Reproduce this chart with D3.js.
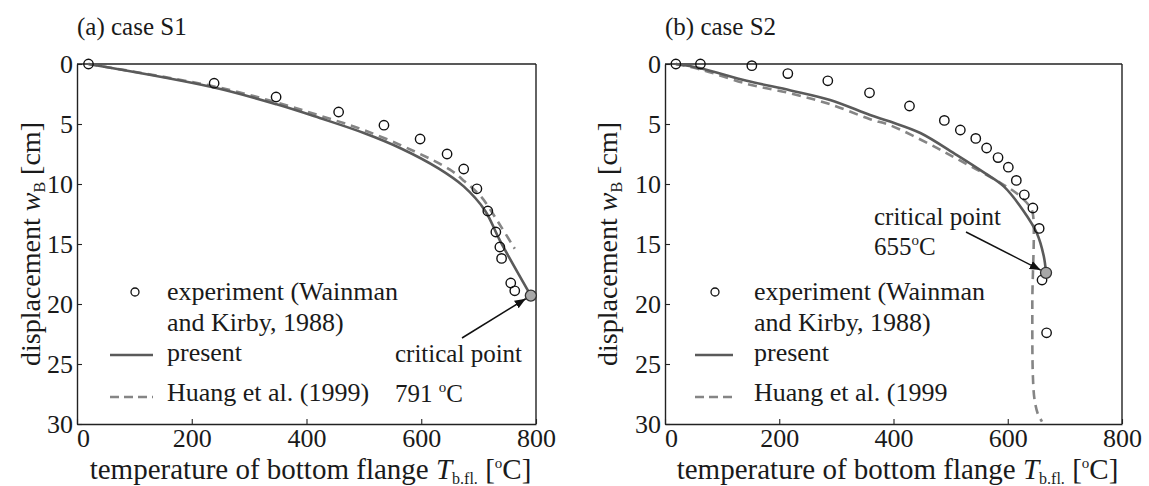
<!DOCTYPE html>
<html>
<head>
<meta charset="utf-8">
<script src="https://cdn.jsdelivr.net/npm/d3@7"></script>
<style>
html,body{margin:0;padding:0;background:#fff;}
svg{display:block;}
</style>
</head>
<body>
<svg id="chart" width="1149" height="486" style="font-family:'Liberation Serif','Times New Roman',Times,'DejaVu Serif',serif"></svg>
<script>
// ---------- data ----------
const tempTicks = [0, 200, 400, 600, 800];
const dispTicks = [0, 5, 10, 15, 20, 25, 30];
const panelTitles = ["(a) case S1", "(b) case S2"];

// case S1
const s1ExpT = [20, 239, 347, 456, 535, 598, 645, 674, 697, 716, 730, 737, 740, 756, 763];
const s1ExpW = [0, 1.6, 2.75, 4.0, 5.1, 6.25, 7.5, 8.75, 10.4, 12.25, 14.0, 15.25, 16.2, 18.25, 18.9];
const s1PresentT = [20, 237, 348, 423, 500, 563, 630, 674, 711, 737, 791];
const s1PresentW = [0, 1.94, 3.36, 4.5, 5.75, 7.0, 8.7, 10.2, 12.2, 14.7, 19.3];
const s1HuangT = [20, 237, 348, 423, 500, 589, 650, 676, 705, 737, 763];
const s1HuangW = [0, 1.85, 3.2, 4.3, 5.5, 7.3, 8.8, 9.8, 11.1, 13.4, 15.4];
const s1Critical = [791, 19.3];

// case S2
const s2ExpT = [19, 62, 152, 215, 285, 358, 428, 489, 517, 544, 563, 583, 601, 615, 629, 644, 655, 660, 668];
const s2ExpW = [0, 0, 0.14, 0.8, 1.4, 2.4, 3.5, 4.7, 5.5, 6.2, 7.0, 7.8, 8.6, 9.7, 10.9, 12.0, 13.7, 18.0, 22.4];
const s2PresentT = [19, 62, 143, 220, 289, 359, 394, 447, 511, 560, 593, 627, 651, 663, 667];
const s2PresentW = [0, 0.35, 1.4, 2.2, 3.0, 4.25, 4.8, 5.75, 7.6, 9.1, 10.2, 12.2, 14.1, 16.0, 17.4];
const s2HuangT = [19, 62, 143, 220, 289, 359, 394, 464, 511, 587, 616, 639, 644, 643, 644, 647, 653, 660];
const s2HuangW = [0, 0.45, 1.65, 2.45, 3.35, 4.6, 5.1, 6.7, 7.9, 9.9, 10.8, 11.9, 12.5, 20, 26, 28, 29.2, 29.8];
const s2Critical = [667, 17.4];

const legendLabels = ["experiment (Wainman", "and Kirby, 1988)", "present"];
const huangLabels = ["Huang et al. (1999)", "Huang et al. (1999"];
const criticalLabels = [["critical point", "791 ", "C"], ["critical point", "655", "C"]];

// ---------- layout ----------
const svg = d3.select("#chart");
const panels = [
  {x0: 77, x1: 536, y0: 64, y1: 424,
   expT: s1ExpT, expW: s1ExpW, preT: s1PresentT, preW: s1PresentW, huT: s1HuangT, huW: s1HuangW,
   crit: s1Critical, arrowFrom: [462, 338],
   legX: 135, legLine: [110, 153], legText: 167,
   critText: [395, 362, 402], huangLabel: huangLabels[0], critLabel: criticalLabels[0],
   yLabelX: 40},
  {x0: 665, x1: 1122, y0: 64, y1: 424,
   expT: s2ExpT, expW: s2ExpW, preT: s2PresentT, preW: s2PresentW, huT: s2HuangT, huW: s2HuangW,
   crit: s2Critical, arrowFrom: [966, 232],
   legX: 715, legLine: [695, 733], legText: 754,
   critText: [874, 225, 255], huangLabel: huangLabels[1], critLabel: criticalLabels[1],
   yLabelX: 617}
];

const defs = svg.append("defs");
defs.append("marker").attr("id", "arrow")
  .attr("viewBox", "0 0 10 10").attr("refX", 10).attr("refY", 5)
  .attr("markerWidth", 11).attr("markerHeight", 11).attr("markerUnits", "userSpaceOnUse")
  .attr("orient", "auto")
  .append("path").attr("d", "M0,1 L10,5 L0,9 Z").attr("fill", "#111");

const presentColor = "#5a5a5a", huangColor = "#858585";
const txtColor = "#1a1a1a";

panels.forEach((p, i) => {
  const x = d3.scaleLinear().domain([0, 800]).range([p.x0, p.x1]);
  const y = d3.scaleLinear().domain([0, 30]).range([p.y0, p.y1]);
  const g = svg.append("g").attr("fill", txtColor);

  // axes
  const ax = g.append("g").attr("transform", `translate(0,${p.y1})`)
    .call(d3.axisBottom(x).tickValues(tempTicks).tickSizeInner(-5).tickSizeOuter(0).tickPadding(6));
  const ay = g.append("g").attr("transform", `translate(${p.x0},0)`)
    .call(d3.axisLeft(y).tickValues(dispTicks).tickSizeInner(-5).tickSizeOuter(0).tickPadding(4));
  [ax, ay].forEach(a => {
    a.attr("font-size", null).attr("font-family", null);
    a.select(".domain").attr("stroke", "#222").attr("stroke-width", 1.4);
    a.selectAll(".tick line").attr("stroke", "#222").attr("stroke-width", 1.1);
    a.selectAll(".tick text").style("font-size", "26px").attr("fill", txtColor);
  });
  ax.selectAll(".tick text").attr("dy", "0.66em");
  ax.selectAll(".tick text").filter(d => d === 0).attr("dx", 6);
  // top & right borders
  g.append("line").attr("x1", p.x0).attr("x2", p.x1).attr("y1", p.y0).attr("y2", p.y0)
    .attr("stroke", "#222").attr("stroke-width", 1.4);
  g.append("line").attr("x1", p.x1).attr("x2", p.x1).attr("y1", p.y0).attr("y2", p.y1)
    .attr("stroke", "#222").attr("stroke-width", 1.4);

  // title
  g.append("text").attr("x", p.x0).attr("y", 35).style("font-size", "25px").text(panelTitles[i]);

  // x label
  const xl = g.append("text").attr("x", (p.x0 + p.x1) / 2 + 4).attr("y", 479)
    .attr("text-anchor", "middle").style("font-size", "29px");
  xl.append("tspan").text("temperature of bottom flange ");
  xl.append("tspan").attr("font-style", "italic").text("T");
  xl.append("tspan").style("font-size", "16px").attr("dy", 5).text("b.fl.");
  xl.append("tspan").attr("dy", -5).text(" [");
  xl.append("tspan").style("font-size", "15px").attr("dy", -11).text("o");
  xl.append("tspan").attr("dy", 11).text("C]");

  // y label
  const yl = g.append("text").attr("transform", `translate(${p.yLabelX},${(p.y0 + p.y1) / 2}) rotate(-90)`)
    .attr("text-anchor", "middle").style("font-size", "28px");
  yl.append("tspan").text("displacement ");
  yl.append("tspan").attr("font-style", "italic").text("w");
  yl.append("tspan").style("font-size", "16px").attr("dy", 5).text("B");
  yl.append("tspan").attr("dy", -5).text(" [cm]");

  // lines
  const line = d3.line().x(d => x(d[0])).y(d => y(d[1])).curve(d3.curveCatmullRom.alpha(0.5));
  const hu = p.huT.map((t, k) => [t, p.huW[k]]);
  const pr = p.preT.map((t, k) => [t, p.preW[k]]);
  g.append("path").datum(hu).attr("d", line).attr("fill", "none")
    .attr("stroke", huangColor).attr("stroke-width", 2.6).attr("stroke-dasharray", "9,6");
  g.append("path").datum(pr).attr("d", line).attr("fill", "none")
    .attr("stroke", presentColor).attr("stroke-width", 2.6);

  // experiment circles
  g.selectAll("circle.exp").data(p.expT.map((t, k) => [t, p.expW[k]])).enter()
    .append("circle").attr("class", "exp")
    .attr("cx", d => x(d[0])).attr("cy", d => y(d[1])).attr("r", 4.7)
    .attr("fill", "none").attr("stroke", "#111").attr("stroke-width", 1.4);

  // critical point
  const cx = x(p.crit[0]), cy = y(p.crit[1]);
  g.append("circle").attr("cx", cx).attr("cy", cy).attr("r", 5.5)
    .attr("fill", "#a8a8a8").attr("stroke", "#333").attr("stroke-width", 1.3);
  const dx = cx - p.arrowFrom[0], dy = cy - p.arrowFrom[1];
  const len = Math.hypot(dx, dy);
  g.append("line").attr("x1", p.arrowFrom[0]).attr("y1", p.arrowFrom[1])
    .attr("x2", cx - dx / len * 6).attr("y2", cy - dy / len * 6)
    .attr("stroke", "#111").attr("stroke-width", 1.5).attr("marker-end", "url(#arrow)");

  // critical label
  g.append("text").attr("x", p.critText[0]).attr("y", p.critText[1]).style("font-size", "25px").text(p.critLabel[0]);
  const ct = g.append("text").attr("x", p.critText[0]).attr("y", p.critText[2]).style("font-size", "25px");
  ct.append("tspan").text(p.critLabel[1]);
  ct.append("tspan").style("font-size", "15px").attr("dy", -10).text("o");
  ct.append("tspan").attr("dy", 10).text(p.critLabel[2]);

  // legend
  g.append("circle").attr("cx", p.legX).attr("cy", 292).attr("r", 4)
    .attr("fill", "none").attr("stroke", "#111").attr("stroke-width", 1.3);
  g.append("line").attr("x1", p.legLine[0]).attr("x2", p.legLine[1]).attr("y1", 355).attr("y2", 355)
    .attr("stroke", presentColor).attr("stroke-width", 2.6);
  g.append("line").attr("x1", p.legLine[0]).attr("x2", p.legLine[1]).attr("y1", 397).attr("y2", 397)
    .attr("stroke", huangColor).attr("stroke-width", 2.6).attr("stroke-dasharray", "9,5");
  const rows = [legendLabels[0], legendLabels[1], legendLabels[2], p.huangLabel];
  const rowY = [300, 331, 361, 401];
  rows.forEach((t, k) => {
    g.append("text").attr("x", p.legText).attr("y", rowY[k]).style("font-size", "26px").text(t);
  });
});
</script>
</body>
</html>
